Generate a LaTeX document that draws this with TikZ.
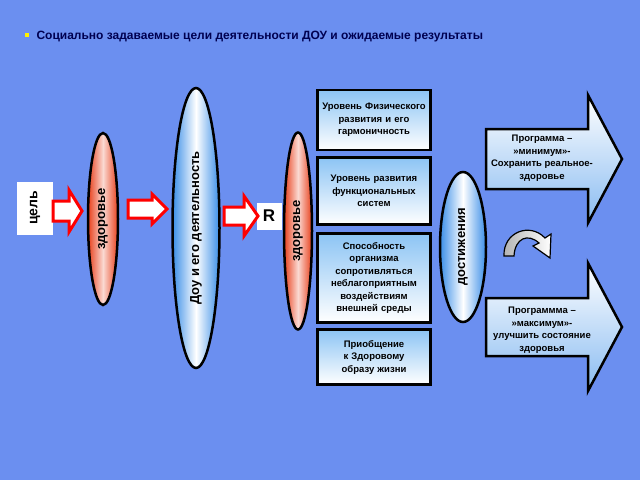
\documentclass[tikz,border=0pt]{standalone}
\usepackage{fontspec}
\setmainfont{Liberation Sans}
\usetikzlibrary{shapes,positioning,calc}
\definecolor{bgblue}{HTML}{6B8FF0}
\definecolor{navy}{HTML}{000050}
\definecolor{hotred}{HTML}{E8401C}
\definecolor{skyblue}{HTML}{3A8EE8}
\definecolor{boxblue}{HTML}{8CC4F4}

% fat block arrow: tail x, centre y, body length, head length, body half height, head half height
\newcommand{\fatarrow}[7][]{%
  \draw[#1] (#2,#3-#6) -- ++(#4,0) -- ++(0,#6-#7) -- ++(#5,#7) -- ++(-#5,#7) -- ++(0,#6-#7) -- ++(-#4,0) -- cycle;}

\begin{document}
\begin{tikzpicture}[x=1pt,y=-1pt,
    ovalred/.style={ellipse, draw, line width=2.5pt, inner sep=0pt, rotate=90,
      left color=hotred, right color=hotred, middle color=hotred!20!white, font=\bfseries\fontsize{13}{15}\selectfont},
    ovalblue/.style={ellipse, draw, line width=2.5pt, inner sep=0pt, rotate=90,
      left color=skyblue, right color=skyblue, middle color=white, font=\bfseries\fontsize{13}{15}\selectfont},
    goalbox/.style={rectangle, draw, line width=2.5pt, top color=boxblue, bottom color=white,
      text width=104pt, align=center, minimum width=113pt, inner sep=1pt, font=\bfseries\fontsize{9.5}{12.5}\selectfont},
    whitebox/.style={rectangle, fill=white, inner sep=0pt, font=\bfseries\fontsize{14}{16}\selectfont},
    redarrow/.style={draw=red, fill=white, line width=3pt, line join=miter},
    bigarrow/.style={draw, line width=2.5pt, top color=white, bottom color=skyblue!60, line join=miter},
    progtext/.style={align=center, font=\bfseries\fontsize{9.5}{12.5}\selectfont}
]
\fill[bgblue] (0,0) rectangle (640,480);

% Title
\fill[yellow] (25,33) rectangle (29,37);
\node[anchor=west, font=\bfseries\fontsize{12}{14}\selectfont, text=navy] (title) at (33,37)
  {Социально задаваемые цели деятельности ДОУ и ожидаемые результаты};

% Left chain
\node[whitebox, minimum width=36pt, minimum height=53pt] (goal) at (35,208) {\rotatebox{90}{цель}};
\node[ovalred, minimum width=172pt, minimum height=30pt] (health1) at (103,219) {здоровье};
\node[ovalblue, minimum width=280pt, minimum height=47pt] (dou) at (196,228) {Доу и его деятельность};
\node[whitebox, minimum width=25pt, minimum height=27pt, font=\bfseries\fontsize{17}{19}\selectfont] (res) at (269,216) {R};
\node[ovalred, minimum width=197pt, minimum height=28pt] (health2) at (298,231) {здоровье};

\fatarrow[redarrow]{53}{211}{16}{13}{10}{21}
\fatarrow[redarrow]{128}{209}{24}{15}{9}{15}
\fatarrow[redarrow]{224}{216}{20}{14}{9}{20}

% Goal boxes
\node[goalbox, minimum height=60pt] (phys) at (374,120) {Уровень Физического развития и его гармоничность};
\node[goalbox, minimum height=67pt] (func) at (374,191) {Уровень развития функциональных систем};
\node[goalbox, minimum height=89pt] (resist) at (374,278) {Способность организма сопротивляться неблагоприятным воздействиям внешней среды};
\node[goalbox, minimum height=55pt] (habit) at (374,357) {Приобщение к Здоровому образу жизни};

\node[ovalblue, minimum width=150pt, minimum height=46pt] (achieve) at (463,247) {достижения};

% Programme arrows
\fatarrow[bigarrow]{486}{159}{102}{34}{30}{64}
\node[progtext] (progmin) at (542,158) {Программа –\\»минимум»-\\Сохранить реальное-\\здоровье};
\fatarrow[bigarrow]{486}{327}{102}{34}{29}{64}
\node[progtext] (progmax) at (542,330) {Программма –\\»максимум»-\\улучшить состояние\\здоровья};

% Turning arrow
\draw[line width=1.2pt, left color=gray!60, right color=white, line join=miter]
  (504,256) .. controls (503,232) and (530,222) .. (545,238) -- (551,234) -- (550,258)
  -- (533,246) -- (539,243) .. controls (528,233) and (515,238) .. (514,256) -- cycle;
\end{tikzpicture}
\end{document}
